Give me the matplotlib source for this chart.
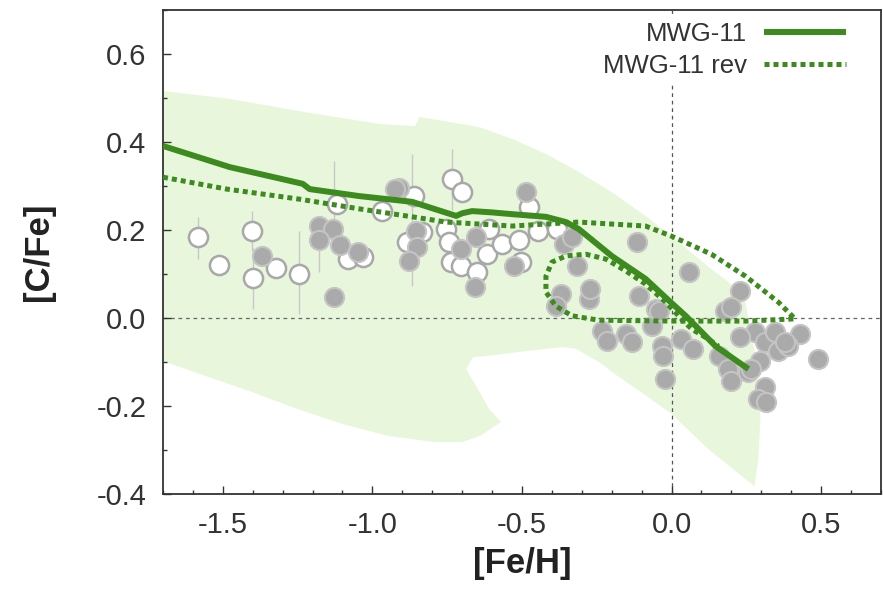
"""[C/Fe] vs [Fe/H] with MWG-11 model tracks
"""
import numpy as np
import matplotlib.pyplot as plt

plt.rcParams['font.family'] = ['Liberation Sans', 'DejaVu Sans']

# observed stars, open symbols
white_feh = [-1.583, -1.513, -1.403, -1.400, -1.323, -1.247, -1.117, -1.083,
             -1.033, -0.967, -0.860, -0.883, -0.833, -0.733, -0.700, -0.753,
             -0.743, -0.737, -0.703, -0.650, -0.617, -0.610, -0.567, -0.510,
             -0.503, -0.477, -0.447, -0.383]
white_cfe = [0.184, 0.120, 0.198, 0.091, 0.114, 0.101, 0.259, 0.134,
             0.139, 0.243, 0.277, 0.173, 0.195, 0.316, 0.286, 0.202,
             0.173, 0.127, 0.118, 0.105, 0.145, 0.202, 0.168, 0.177,
             0.127, 0.252, 0.198, 0.202]

# observed stars, filled symbols
gray_feh = [-1.370, -1.177, -1.133, -1.180, -1.110, -1.047, -1.130, -0.910,
            -0.923, -0.853, -0.850, -0.877, -0.703, -0.653, -0.657, -0.527,
            -0.487, -0.360, -0.333, -0.317, -0.117, 0.057, 0.230, 0.180,
            0.200, -0.370, -0.387, -0.277, -0.273, -0.110, -0.053, -0.233,
            -0.217, -0.153, -0.133, -0.067, -0.033, -0.027, -0.023, 0.030,
            0.073, 0.157, 0.190, 0.200, 0.280, 0.313, 0.357, 0.297,
            0.347, 0.257, 0.313, 0.290, 0.317, 0.430, 0.490, 0.390,
            0.380, 0.230, 0.267, -0.043]
gray_cfe = [0.141, 0.209, 0.202, 0.177, 0.166, 0.150, 0.048, 0.295,
            0.293, 0.198, 0.161, 0.130, 0.157, 0.184, 0.070, 0.118,
            0.286, 0.168, 0.184, 0.118, 0.173, 0.105, 0.061, 0.016,
            0.025, 0.055, 0.027, 0.043, 0.066, 0.050, 0.020, -0.030,
            -0.052, -0.036, -0.055, -0.018, -0.064, -0.086, -0.139, -0.048,
            -0.070, -0.086, -0.116, -0.143, -0.032, -0.055, -0.075, -0.098,
            -0.032, -0.123, -0.157, -0.184, -0.191, -0.036, -0.093, -0.064,
            -0.055, -0.043, -0.116, 0.016]

# error bars (x, low, high)
err_x = [-1.583, -1.403, -1.400, -1.247, -1.130, -1.180, -0.867, -0.733]
err_lo = [0.134, 0.153, 0.020, 0.009, 0.157, 0.105, 0.073, 0.245]
err_hi = [0.230, 0.243, 0.160, 0.198, 0.357, 0.180, 0.373, 0.384]

# shaded region outline
band_x = [-1.70, -1.477, -1.243, -0.977, -0.857, -0.843, -0.643, -0.533,
          -0.420, -0.310, -0.200, -0.087, 0.000, 0.080, 0.133, 0.190,
          0.247, 0.257, 0.283, 0.297, 0.290, 0.277, 0.247, 0.123,
          0.000, -0.103, -0.180, -0.243, -0.320, -0.363, -0.487, -0.610,
          -0.663, -0.687, -0.653, -0.610, -0.570, -0.640, -0.700, -0.793,
          -0.947, -1.100, -1.250, -1.403, -1.557, -1.70]
band_y = [0.516, 0.498, 0.470, 0.441, 0.436, 0.457, 0.434, 0.407,
          0.373, 0.332, 0.286, 0.232, 0.186, 0.141, 0.111, 0.082,
          0.036, -0.002, -0.093, -0.230, -0.320, -0.382, -0.366, -0.298,
          -0.218, -0.168, -0.132, -0.100, -0.070, -0.066, -0.075, -0.086,
          -0.089, -0.116, -0.155, -0.207, -0.236, -0.268, -0.282, -0.282,
          -0.268, -0.241, -0.207, -0.168, -0.132, -0.098]

# MWG-11 model
mwg_feh = [-1.70, -1.477, -1.233, -1.210, -1.043, -0.867, -0.720, -0.700,
           -0.667, -0.600, -0.533, -0.420, -0.353, -0.310, -0.200, -0.087,
           0.000, 0.047, 0.147, 0.223, 0.257]
mwg_cfe = [0.391, 0.343, 0.305, 0.293, 0.277, 0.264, 0.232, 0.238,
           0.243, 0.240, 0.236, 0.230, 0.218, 0.202, 0.141, 0.089,
           0.034, 0.005, -0.064, -0.100, -0.116]

# MWG-11 rev model
rev_feh = [-1.70, -1.487, -1.243, -1.043, -0.867, -0.753, -0.533, -0.310,
           -0.087, 0.000, 0.133, 0.247, 0.357, 0.413, 0.247, 0.000,
           -0.243, -0.333, -0.387, -0.420, -0.420, -0.400, -0.353, -0.287,
           -0.220, -0.153, -0.087, -0.020, 0.033, 0.067, 0.123, 0.157]
rev_cfe = [0.320, 0.293, 0.270, 0.248, 0.230, 0.218, 0.209, 0.218,
           0.209, 0.186, 0.145, 0.095, 0.036, -0.002, -0.007, -0.007,
           -0.005, 0.005, 0.027, 0.059, 0.095, 0.127, 0.141, 0.145,
           0.134, 0.107, 0.077, 0.036, -0.002, -0.025, -0.048, -0.064]

green = '#3d8b1f'

fig = plt.figure(figsize=(8.83, 5.89), dpi=100)
ax = fig.add_axes([0.1846, 0.1613, 0.8131, 0.8217])

ax.fill(band_x, band_y, color='#e8f7dc', lw=0, zorder=0)
ax.axhline(0, color='#666666', lw=0.9, ls=(0, (3, 3)), zorder=1)
ax.axvline(0, color='#555555', lw=0.9, ls=(0, (3, 3)), zorder=1)

ax.vlines(err_x, err_lo, err_hi, color='#c8c8c8', lw=1.0, zorder=2)
ax.scatter(white_feh, white_cfe, s=190, facecolor='white',
           edgecolor='#a8a8a8', linewidth=1.8, zorder=3)
ax.scatter(gray_feh, gray_cfe, s=190, facecolor='#aaaaaa',
           edgecolor='#c4c4c4', linewidth=1.5, zorder=3)

ax.plot(mwg_feh, mwg_cfe, color=green, lw=4.3, solid_capstyle='butt',
        label='MWG-11', zorder=4)
ax.plot(rev_feh, rev_cfe, color=green, lw=3.6, ls=(0, (1, 0.8)),
        dash_capstyle='butt', label='MWG-11 rev', zorder=4)

ax.set_xlim(-1.7, 0.7)
ax.set_ylim(-0.4, 0.7)
ax.set_xticks([-1.5, -1.0, -0.5, 0.0, 0.5])
ax.set_xticks(np.arange(-1.7, 0.71, 0.1), minor=True)
ax.set_yticks([-0.4, -0.2, 0.0, 0.2, 0.4, 0.6])
ax.set_yticks(np.arange(-0.4, 0.71, 0.1), minor=True)
ax.set_xticklabels(['-1.5', '-1.0', '-0.5', '0.0', '0.5'])
ax.set_yticklabels(['-0.4', '-0.2', '0.0', '0.2', '0.4', '0.6'])
ax.tick_params(which='both', direction='in', colors='#333333',
               labelsize=21, width=1.0)
ax.tick_params(which='major', length=6, pad=12)
ax.tick_params(which='minor', length=3)
for sp in ax.spines.values():
    sp.set_color('#333333')
    sp.set_linewidth(1.3)

ax.set_xlabel('[Fe/H]', fontsize=25, fontweight='bold', color='#222222',
              labelpad=6)
ax.set_ylabel('[C/Fe]', fontsize=25, fontweight='bold', color='#222222',
              labelpad=30)

leg = ax.legend(loc='upper right', bbox_to_anchor=(0.962, 0.991),
                markerfirst=False, fontsize=18.5,
                handlelength=3.2, handletextpad=0.65, labelspacing=0.3,
                borderpad=0.3, borderaxespad=0.0, frameon=True)
leg.get_frame().set_facecolor('white')
leg.get_frame().set_edgecolor('none')
leg.get_frame().set_alpha(1)
for t in leg.get_texts():
    t.set_color('#333333')

plt.savefig('out.png')
